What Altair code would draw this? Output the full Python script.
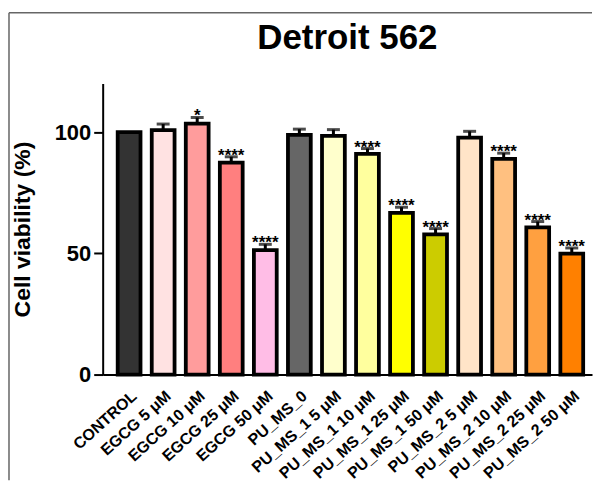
import altair as alt
import pandas as pd

labels = ["CONTROL", "EGCG 5 μM", "EGCG 10 μM", "EGCG 25 μM", "EGCG 50 μM",
          "PU_MS_0", "PU_MS_1 5 μM", "PU_MS_1 10 μM", "PU_MS_1 25 μM", "PU_MS_1 50 μM",
          "PU_MS_2 5 μM", "PU_MS_2 10 μM", "PU_MS_2 25 μM", "PU_MS_2 50 μM"]
values = [100, 100.8, 103.5, 87.4, 51.3, 98.8, 98.4, 91.0, 66.7, 57.8, 97.7, 88.9, 60.7, 49.9]
errors = [0, 2.5, 2.5, 2.4, 2.4, 2.4, 2.6, 2.2, 2.3, 2.4, 2.6, 2.4, 2.4, 2.3]
stars = ["", "", "*", "****", "****", "", "", "****", "****", "****", "", "****", "****", "****"]
colors = ["#333333", "#FFE2E2", "#FF9C9C", "#FF7F7F", "#FFBDE6", "#666666", "#FFFFCC",
          "#FFFF9E", "#FFFF00", "#CCCC00", "#FFE4C8", "#FFC080", "#FFA040", "#FF8000"]
title_text = "Detroit 562"

FONT = "Liberation Sans"

df = pd.DataFrame({"label": labels, "value": values, "err": errors, "stars": stars})
df["top"] = df["value"] + df["err"]
df_err = df[df["err"] > 0]

x_enc = alt.X("label:N", sort=labels,
              scale=alt.Scale(paddingInner=0.33, paddingOuter=0.35, align=0.63),
              axis=alt.Axis(title=None, labelAngle=-42, ticks=False, domainColor="black",
                            domainWidth=2, labelFontSize=16, labelFontWeight="bold",
                            labelAlign="right", labelBaseline="top", labelPadding=13,
                            labelColor="black", labelFont=FONT))
y_scale = alt.Scale(domain=[0, 120], nice=False)

bars = alt.Chart(df).mark_bar(stroke="black", strokeWidth=3.8).encode(
    x=x_enc,
    y=alt.Y("value:Q", scale=y_scale,
            axis=alt.Axis(values=[0, 50, 100], title="Cell viability (%)", grid=False,
                          domainColor="black", domainWidth=2, tickColor="black",
                          tickWidth=2, tickSize=9, labelFontSize=22, labelFontWeight="bold",
                          labelColor="black", labelFont=FONT, labelPadding=3,
                          titleFontSize=23, titleFontWeight="bold", titleColor="black",
                          titleFont=FONT, titlePadding=20)),
    color=alt.Color("label:N", scale=alt.Scale(domain=labels, range=colors), legend=None),
)

stem = alt.Chart(df_err).mark_rule(color="black", strokeWidth=3).encode(
    x=alt.X("label:N", sort=labels),
    y=alt.Y("value:Q", scale=y_scale),
    y2="top:Q",
)

cap = alt.Chart(df_err).mark_tick(color="black", thickness=3, size=13).encode(
    x=alt.X("label:N", sort=labels),
    y=alt.Y("top:Q", scale=y_scale),
)

star_text = alt.Chart(df_err).mark_text(fontSize=17, fontWeight="bold", font=FONT,
                                        baseline="alphabetic", dy=4, color="black").encode(
    x=alt.X("label:N", sort=labels),
    y=alt.Y("top:Q", scale=y_scale),
    text="stars:N",
)

frame_df = pd.DataFrame({"title": [title_text]})
frame_left = alt.Chart(frame_df).mark_rule(color="#666666", strokeWidth=1.5).encode(
    x=alt.value(-94), y=alt.value(-71), y2=alt.value(398))
frame_top = alt.Chart(frame_df).mark_rule(color="#666666", strokeWidth=1.5).encode(
    x=alt.value(-94), x2=alt.value(491), y=alt.value(-71))
title = alt.Chart(frame_df).mark_text(fontSize=35, fontWeight="bold", font=FONT,
                                      color="black", align="center",
                                      baseline="alphabetic").encode(
    x=alt.value(245.5), y=alt.value(-35), text="title:N")

chart = alt.layer(bars, stem, cap, star_text, frame_left, frame_top, title).properties(
    width=491, height=292,
    padding={"left": 0, "top": 3, "right": 0, "bottom": 0},
    background="white",
).configure_view(stroke=None)

chart.save("out.html", embed_options={"renderer": "svg", "actions": False})
